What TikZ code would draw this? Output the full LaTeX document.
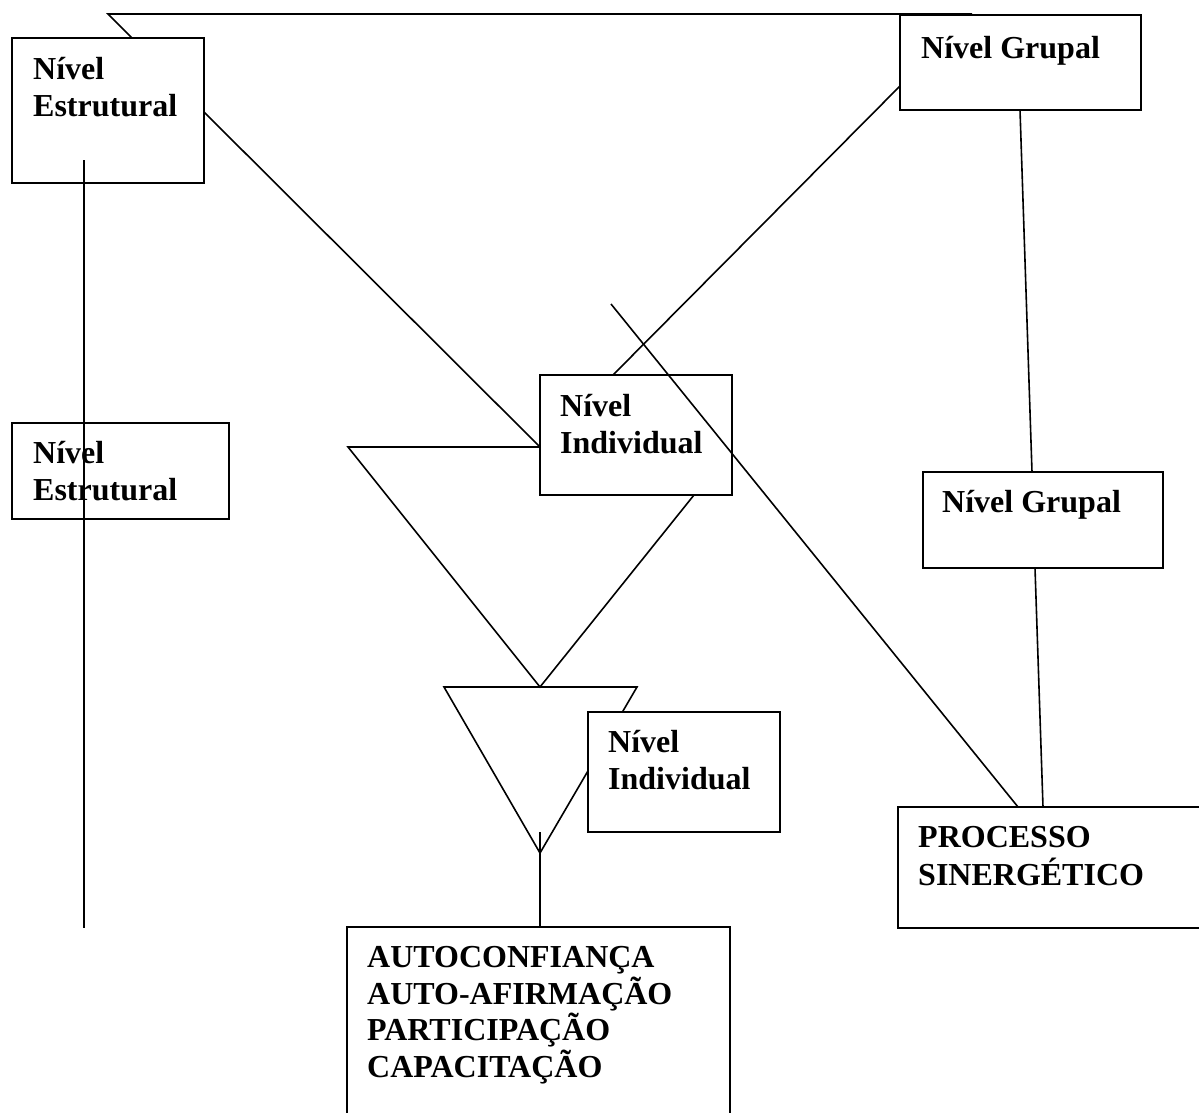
\documentclass[tikz,border=0pt]{standalone}
\usepackage{fontspec}
\setmainfont{Liberation Serif}
\begin{document}
\begin{tikzpicture}[x=1pt,y=-1pt,
  box/.style={draw,line width=1.8pt,inner sep=0pt,outer sep=0pt,anchor=north west},
  lbl/.style={inner sep=0pt,anchor=base west,font=\fontsize{32}{37}\selectfont\bfseries},
  conn/.style={line width=1.6pt,line join=miter}]
\useasboundingbox (0,0) rectangle (1199,1113);
\clip (0,0) rectangle (1199,1113);

% boxes
\node[box,minimum width=192,minimum height=145] (b1) at (12,38) {};
\node[box,minimum width=217,minimum height=96] (b2) at (12,423) {};
\node[box,minimum width=192,minimum height=120] (ni1) at (540,375) {};
\node[box,minimum width=241,minimum height=95] (ng1) at (900,15) {};
\node[box,minimum width=240,minimum height=96] (ng2) at (923,472) {};
\node[box,minimum width=310,minimum height=121] (ps) at (898,807) {};
\node[box,minimum width=383,minimum height=200] (au) at (347,927) {};

% connector end points
\coordinate (tl) at (108,14);
\coordinate (tr) at (972,14);
\coordinate (b1top) at (132,38);
\coordinate (b1e) at (204,112);
\coordinate (nil) at (540,447);
\coordinate (nitop) at (613,375);
\coordinate (ngl) at (900,86);
\coordinate (ng1b) at (1020,110);
\coordinate (ng2t) at (1032,472);
\coordinate (ng2b) at (1035,568);
\coordinate (pst) at (1043,807);
\coordinate (dstart) at (611,304);
\coordinate (psd) at (1018,807);
\coordinate (tri1l) at (348,447);
\coordinate (apex1) at (540,687);
\coordinate (nib) at (694,495);
\coordinate (st1) at (444,687);
\coordinate (st2) at (637,687);
\coordinate (apex2) at (540,853);
\coordinate (v1) at (84,160);
\coordinate (v2) at (84,928);
\coordinate (vt) at (540,832);
\coordinate (aut) at (540,927);

% connectors
\draw[conn] (tr) -- (tl) -- (b1top);
\draw[conn] (b1e) -- (nil);
\draw[conn] (nitop) -- (ngl);
\draw[conn] (ng1b) -- (ng2t);
\draw[conn] (ng2b) -- (pst);
\draw[conn] (dstart) -- (psd);
\draw[conn] (nil) -- (tri1l) -- (apex1) -- (nib);
\draw[conn] (st1) -- (st2) -- (apex2) -- cycle;
\draw[conn] (v1) -- (v2);
\draw[conn] (vt) -- (aut);

% box drawn over the small triangle
\node[box,fill=white,minimum width=192,minimum height=120] (ni2) at (588,712) {};

% texts
\node[lbl] (t1a) at (33,80) {Nível};
\node[lbl] (t1b) at (33,117) {Estrutural};
\node[lbl] (t2a) at (33,463) {Nível};
\node[lbl] (t2b) at (33,500) {Estrutural};
\node[lbl] (t3a) at (560,416) {Nível};
\node[lbl] (t3b) at (560,453) {Individual};
\node[lbl] (t4) at (921,59) {Nível Grupal};
\node[lbl] (t5) at (942,512) {Nível Grupal};
\node[lbl] (t6a) at (608,752) {Nível};
\node[lbl] (t6b) at (608,789) {Individual};
\node[lbl] (t7a) at (918,847) {PROCESSO};
\node[lbl] (t7b) at (918,885) {SINERGÉTICO};
\node[lbl] (t8a) at (367,967) {AUTOCONFIANÇA};
\node[lbl] (t8b) at (367,1004) {AUTO-AFIRMAÇÃO};
\node[lbl] (t8c) at (367,1040) {PARTICIPAÇÃO};
\node[lbl] (t8d) at (367,1077) {CAPACITAÇÃO};
\end{tikzpicture}
\end{document}
